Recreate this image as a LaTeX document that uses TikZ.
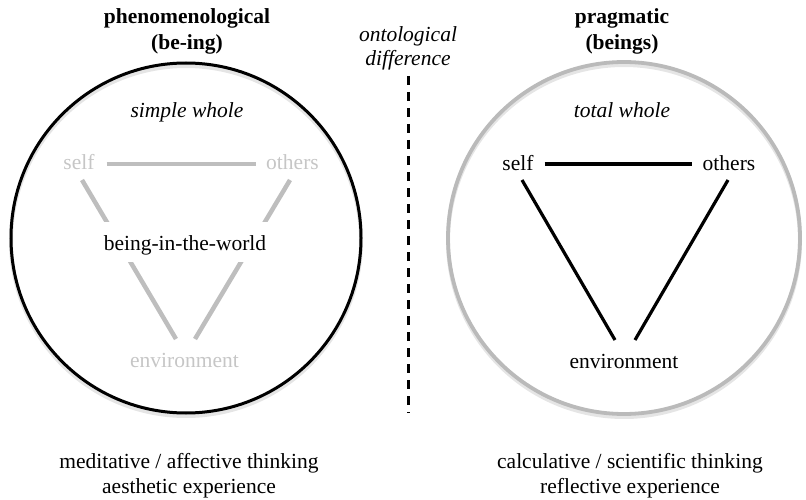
\documentclass[tikz,border=0pt]{standalone}
\usepackage{fontspec}
\setmainfont{Liberation Serif}
\definecolor{lighttext}{HTML}{C6C6C6}
\definecolor{lightline}{HTML}{BEBEBE}
\definecolor{ringgray}{HTML}{BABABA}
\begin{document}
\begin{tikzpicture}[x=1pt,y=-1pt,
  every node/.style={font=\fontsize{21.5}{25.5}\selectfont, inner sep=0pt},
  lbl/.style={anchor=base},
  title/.style={align=center, font=\fontsize{21.5}{26}\selectfont\bfseries},
  note/.style={align=center, font=\fontsize{21.5}{25}\selectfont},
  faint/.style={anchor=base, text=lighttext},
  gline/.style={draw=lightline, line width=4.5pt},
  bline/.style={draw=black, line width=3.2pt},
  ringL/.style={circle, draw=black, line width=3pt, minimum size=350pt},
  ringR/.style={circle, draw=ringgray, line width=3.8pt, minimum size=352pt},
  shade/.style={circle, draw=black!10, line width=4pt}
]
\useasboundingbox (0,0) rectangle (806,500);

% faint shadows under the rings
\node[shade, minimum size=350pt] at (186,241) {};
\node[shade, minimum size=352pt] at (624,241) {};

% rings
\node[ringL] (cL) at (186,238) {};
\node[ringR] (cR) at (624,238) {};

% titles
\node[title] (tL) at (187,31) {phenomenological\\(be-ing)};
\node[title] (tR) at (622,31) {pragmatic\\(beings)};
\node[note, font=\fontsize{21.5}{24}\selectfont\itshape] (od) at (408,48) {ontological\\difference};

% dashed divider
\coordinate (dtop) at (408,76);
\coordinate (dbot) at (408,413);
\draw[line width=3pt, dash pattern=on 9pt off 7pt] (dtop) -- (dbot);

% inner headings
\node[lbl, font=\fontsize{21.5}{25}\selectfont\itshape] (swL) at (187,118) {simple whole};
\node[lbl, font=\fontsize{21.5}{25}\selectfont\itshape] (twR) at (622,118) {total whole};

% left triangle (faint)
\node[faint] (sL) at (79,170) {self};
\node[faint] (oL) at (292.5,170) {others};
\node[faint] (eL) at (184.5,367) {environment};
\draw[gline] ([xshift=12pt,yshift=6pt]sL.base east) -- ([xshift=-10.5pt,yshift=6pt]oL.base west);
\draw[gline] ([xshift=3pt,yshift=-10pt]sL.base) -- ([xshift=-8.5pt,yshift=28pt]eL.base);
\draw[gline] ([xshift=-2.5pt,yshift=-10pt]oL.base) -- ([xshift=10.5pt,yshift=28pt]eL.base);
\node[lbl, fill=white, inner xsep=2pt, inner ysep=8pt, text height=20pt, text depth=4pt] (bw) at (185,250) {being-in-the-world};

% right triangle
\node[lbl] (sR) at (518,171) {self};
\node[lbl] (oR) at (729,171) {others};
\node[lbl] (eR) at (624,368) {environment};
\draw[bline] ([xshift=11pt,yshift=7pt]sR.base east) -- ([xshift=-10.5pt,yshift=7pt]oR.base west);
\draw[bline] ([xshift=4pt,yshift=-9pt]sR.base) -- ([xshift=-9pt,yshift=28pt]eR.base);
\draw[bline] ([xshift=-1pt,yshift=-9pt]oR.base) -- ([xshift=11pt,yshift=28pt]eR.base);

% bottom captions
\node[note] (bL) at (189,476) {meditative / affective thinking\\aesthetic experience};
\node[note] (bR) at (630,476) {calculative / scientific thinking\\reflective experience};
\end{tikzpicture}
\end{document}
